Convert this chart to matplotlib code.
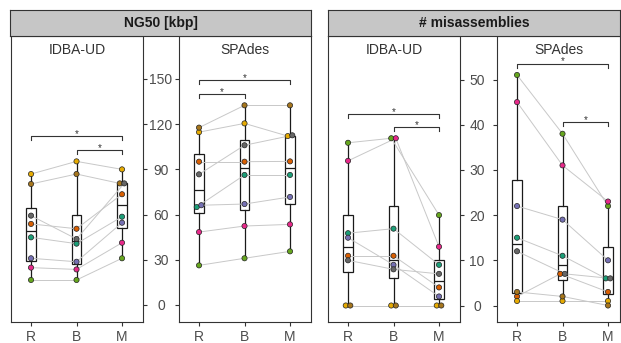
import matplotlib
matplotlib.use('Agg')
import matplotlib.pyplot as plt
import numpy as np

plt.rcParams['font.family'] = ['Liberation Sans', 'DejaVu Sans']

# ---------------- data ----------------
methods = ['R', 'B', 'M']
assemblers = ['IDBA-UD', 'SPAdes']
metrics = ['NG50 [kbp]', '# misassemblies']
# sample order: teal, orange, purple, green, pink, yellow, brown, grey
sample_colors = ['#1B9E77', '#D95F02', '#7570B3', '#66A61E',
                 '#E7298A', '#E6AB02', '#A6761D', '#666666']

ng50_idba_R = [44.9, 53.8, 31.0, 16.6, 24.8, 86.9, 80.3, 59.3]
ng50_idba_B = [40.7, 50.6, 28.7, 16.6, 23.6, 95.3, 86.9, 43.8]
ng50_idba_M = [58.6, 73.5, 54.6, 31.0, 41.3, 90.0, 80.7, 80.7]

ng50_spades_R = [65.0, 95.1, 66.2, 26.3, 48.4, 114.7, 117.7, 86.7]
ng50_spades_B = [86.3, 95.1, 67.0, 31.0, 52.4, 120.5, 132.5, 106.0]
ng50_spades_M = [86.3, 95.3, 71.7, 35.6, 53.5, 112.1, 132.5, 112.6]

mis_idba_R = [16, 11, 15, 36, 32, 0, 0, 10]
mis_idba_B = [17, 11, 9, 37, 37, 0, 0, 8]
mis_idba_M = [9, 4, 2, 20, 13, 0, 0, 7]

mis_spades_R = [15, 2, 22, 51, 45, 1, 3, 12]
mis_spades_B = [11, 7, 19, 38, 31, 1, 2, 7]
mis_spades_M = [6, 3, 10, 22, 23, 1, 0, 6]

# significance comparisons (group a, group b, bracket level)
ng50_idba_sig = [('R', 'M', 112.0), ('B', 'M', 102.6)]
ng50_spades_sig = [('R', 'M', 149.1), ('R', 'B', 139.8)]
mis_idba_sig = [('R', 'M', 42.4), ('B', 'M', 39.4)]
mis_spades_sig = [('R', 'M', 53.5), ('B', 'M', 40.5)]

ng50_ticks = [0, 30, 60, 90, 120, 150]
mis_ticks = [0, 10, 20, 30, 40, 50]

# ---------------- layout ----------------
W, H, DPI = 621, 343, 100
fig = plt.figure(figsize=(W / DPI, H / DPI), dpi=DPI)

def px_axes(x0, x1, y0, y1):
    return fig.add_axes([x0 / W, 1 - y1 / H, (x1 - x0) / W, (y1 - y0) / H])

PANEL_Y = (36, 322)
PPU = 45.5          # px per category
X0_OFF = 0.56
DARK = '#333333'
TXT = '#4d4d4d'

panels = [
    dict(metric=0, asm=0, px=(11, 143), data=(ng50_idba_R, ng50_idba_B, ng50_idba_M),
         sig=ng50_idba_sig, zero=305.0, ppv=1.507, thr=2.0, ticks=ng50_ticks),
    dict(metric=0, asm=1, px=(179, 311), data=(ng50_spades_R, ng50_spades_B, ng50_spades_M),
         sig=ng50_spades_sig, zero=305.0, ppv=1.507, thr=2.0, ticks=ng50_ticks),
    dict(metric=1, asm=0, px=(328, 460), data=(mis_idba_R, mis_idba_B, mis_idba_M),
         sig=mis_idba_sig, zero=305.5, ppv=4.52, thr=0.5, ticks=mis_ticks),
    dict(metric=1, asm=1, px=(497, 620), data=(mis_spades_R, mis_spades_B, mis_spades_M),
         sig=mis_spades_sig, zero=305.5, ppv=4.52, thr=0.5, ticks=mis_ticks),
]

def dodge(vals, thr, step=0.1):
    vals = np.asarray(vals, float)
    off = np.zeros(len(vals))
    for i in range(len(vals)):
        grp = [j for j in range(len(vals)) if abs(vals[j] - vals[i]) < thr]
        if len(grp) > 1:
            rank = grp.index(i)
            off[i] = (rank - (len(grp) - 1) / 2) * step
    return off

for p in panels:
    x0, x1 = p['px']
    y0, y1 = PANEL_Y
    ax = px_axes(x0, x1, y0, y1)
    ax.set_xlim(X0_OFF, X0_OFF + (x1 - x0) / PPU)
    ax.set_ylim(-(y1 - p['zero']) / p['ppv'], (p['zero'] - y0) / p['ppv'])
    for s in ax.spines.values():
        s.set_color(DARK)
        s.set_linewidth(0.8)

    groups = [np.asarray(d, float) for d in p['data']]
    ax.boxplot(groups, positions=[1, 2, 3], widths=0.2, patch_artist=True,
               showcaps=False, showfliers=False, whis=1.5,
               boxprops=dict(facecolor='white', edgecolor='#1a1a1a', linewidth=0.9),
               medianprops=dict(color='#1a1a1a', linewidth=0.9),
               whiskerprops=dict(color='#1a1a1a', linewidth=0.9), zorder=1)

    xs = [k + 1 + dodge(g, p['thr']) for k, g in enumerate(groups)]
    n = len(groups[0])
    for i in range(n):
        for k in range(2):
            ax.plot([xs[k][i], xs[k + 1][i]], [groups[k][i], groups[k + 1][i]],
                    color='#c8c8c8', lw=0.7, zorder=2, solid_capstyle='butt')
    for k in range(3):
        ax.scatter(xs[k], groups[k], s=14, c=sample_colors, edgecolors='#222222',
                   linewidths=0.5, zorder=4)

    tip = 4.0 / p['ppv']
    for a, b, lvl in p['sig']:
        xa, xb = methods.index(a) + 1, methods.index(b) + 1
        ax.plot([xa, xa, xb, xb], [lvl - tip, lvl, lvl, lvl - tip],
                color=DARK, lw=0.8, zorder=3)
        ax.annotate('*', xy=((xa + xb) / 2, lvl), xytext=(0, -0.6),
                    textcoords='offset points', ha='center', va='baseline',
                    fontsize=7, color=DARK)

    ax.set_xticks([1, 2, 3])
    ax.set_xticklabels(methods)
    ax.tick_params(axis='x', length=3.2, width=0.8, color=DARK, pad=2.5,
                   labelsize=10, labelcolor=TXT)
    ax.set_yticks(p['ticks'])
    if p['asm'] == 0:
        ax.tick_params(axis='y', left=False, labelleft=False, right=True,
                       direction='out', length=2.6, width=0.8, color=DARK)
    else:
        gap = 18 if p['metric'] == 0 else 20
        ax.tick_params(axis='y', left=True, direction='out', length=2.6, width=0.8,
                       color=DARK, labelsize=10, labelcolor=TXT,
                       pad=(gap - 3.6) * 72 / DPI)
        for lab in ax.get_yticklabels():
            lab.set_horizontalalignment('center')

    ax.text(0.5, 1 - 14 / (y1 - y0), assemblers[p['asm']], transform=ax.transAxes,
            ha='center', va='center', fontsize=10, color=DARK)

# strips
for x0, x1, title in [(10, 311, metrics[0]), (328, 620, metrics[1])]:
    sax = px_axes(x0, x1, 10, 36)
    sax.set_facecolor('#c6c6c6')
    sax.set_xticks([])
    sax.set_yticks([])
    for s in sax.spines.values():
        s.set_color(DARK)
        s.set_linewidth(0.8)
    sax.text(0.5, 0.5, title, transform=sax.transAxes, ha='center', va='center',
             fontsize=10, fontweight='bold', color='#1a1a1a')

fig.savefig('out.png', dpi=DPI)
